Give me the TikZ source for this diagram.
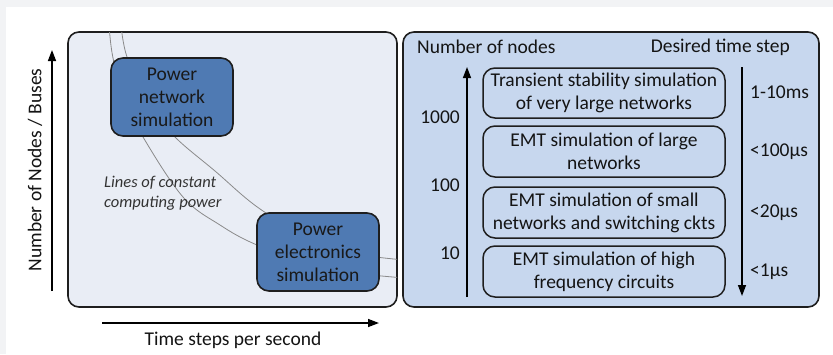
\documentclass[tikz,border=0pt]{standalone}
\usepackage{fontspec}
\setmainfont{Carlito}
\usetikzlibrary{arrows.meta}

\definecolor{pageedge}{HTML}{F2F3F5}
\definecolor{leftfill}{HTML}{E9EDF5}
\definecolor{rightfill}{HTML}{C7D7EE}
\definecolor{simfill}{HTML}{4F7AB3}
\definecolor{edge}{HTML}{1E1E1E}
\definecolor{isocolor}{HTML}{8A8A8A}

\begin{document}
\begin{tikzpicture}[x=1pt,y=-1pt,
  panel/.style={draw=edge, line width=1.6pt, rounded corners=11pt, inner sep=0pt},
  simbox/.style={draw=edge, fill=simfill, line width=1.6pt, rounded corners=12pt,
    minimum width=122pt, minimum height=78pt, align=center,
    font=\fontsize{19.5}{23}\selectfont, text=black!90, inner sep=0pt},
  rangebox/.style={draw=edge, line width=1.5pt, rounded corners=12pt,
    minimum width=242pt, minimum height=50pt, align=center,
    font=\fontsize{19.5}{23}\selectfont, text=black!92, inner sep=0pt},
  lbl/.style={font=\fontsize{19.5}{23}\selectfont, text=black!92, inner sep=0pt},
  axis/.style={line width=1.4pt, draw=black, -{Triangle[length=11pt,width=8pt]}},
  iso/.style={draw=isocolor, line width=0.8pt}
]
\useasboundingbox (0,0) rectangle (833,354);
\fill[pageedge] (0,0) rectangle (833,354);
\fill[white] (6,7) rectangle (833,354);

% the two panels
\node[panel, fill=leftfill, minimum width=329pt, minimum height=275pt] (left) at (232.5,169.5) {};
\node[panel, fill=rightfill, minimum width=416pt, minimum height=275pt] (right) at (611,169.5) {};

% lines of constant computing power, kept inside the left panel
\begin{scope}
  \clip[rounded corners=11pt] (68,32) rectangle (397,307);
  \draw[iso] plot[smooth, tension=0.6] coordinates
    {(109,25) (113,58) (125,100) (143,137) (183,197) (220,225) (257,245) (320,268) (405,278)};
  \draw[iso] plot[smooth, tension=0.6] coordinates
    {(121,25) (127,57) (147,100) (173,135) (215,171) (263,211) (330,248) (405,260)};
\end{scope}

\node[simbox] (psim) at (172,97) {Power\\network\\simulation};
\node[simbox] (esim) at (318,252) {Power\\electronics\\simulation};

\node[anchor=west, align=left, font=\fontsize{16.5}{20}\selectfont\itshape, text=black!80, inner sep=0pt]
  (isolbl) at (104,193) {Lines of constant\\computing power};

% axes of the left panel
\coordinate (yb) at (52,291);
\coordinate (yt) at (52,50);
\draw[axis] (yb) -- (yt);
\node[lbl, rotate=90] (ylab) at (35,170) {Number of Nodes / Buses};
\coordinate (xl) at (102,323);
\coordinate (xr) at (379,323);
\draw[axis] (xl) -- (xr);
\node[lbl] (xlab) at (233,340) {Time steps per second};

% right panel: simulation ranges
\node[lbl, anchor=west] (nhead) at (417,47) {Number of nodes};
\node[lbl, anchor=east] (thead) at (790,47) {Desired time step};

\node[rangebox] (r1) at (604,93) {Transient stability simulation\\of very large networks};
\node[rangebox, minimum height=51pt] (r2) at (604,151.5) {EMT simulation of large\\networks};
\node[rangebox, minimum height=51pt] (r3) at (604,212.5) {EMT simulation of small\\networks and switching ckts};
\node[rangebox, minimum height=51pt] (r4) at (604,271.5) {EMT simulation of high\\frequency circuits};

\coordinate (nb) at (467,297);
\coordinate (nt) at (467,67);
\draw[axis] (nb) -- (nt);
\coordinate (tt) at (742,67);
\coordinate (tb) at (742,296);
\draw[axis] (tt) -- (tb);

\node[lbl, anchor=east] (n1000) at (460,117) {1000};
\node[lbl, anchor=east] (n100) at (460,185) {100};
\node[lbl, anchor=east] (n10) at (460,253) {10};

\node[lbl, anchor=west] (t1) at (750,92) {1-10ms};
\node[lbl, anchor=west] (t2) at (750,152) {<100µs};
\node[lbl, anchor=west] (t3) at (750,213) {<20µs};
\node[lbl, anchor=west] (t4) at (750,272) {<1µs};
\end{tikzpicture}
\end{document}
